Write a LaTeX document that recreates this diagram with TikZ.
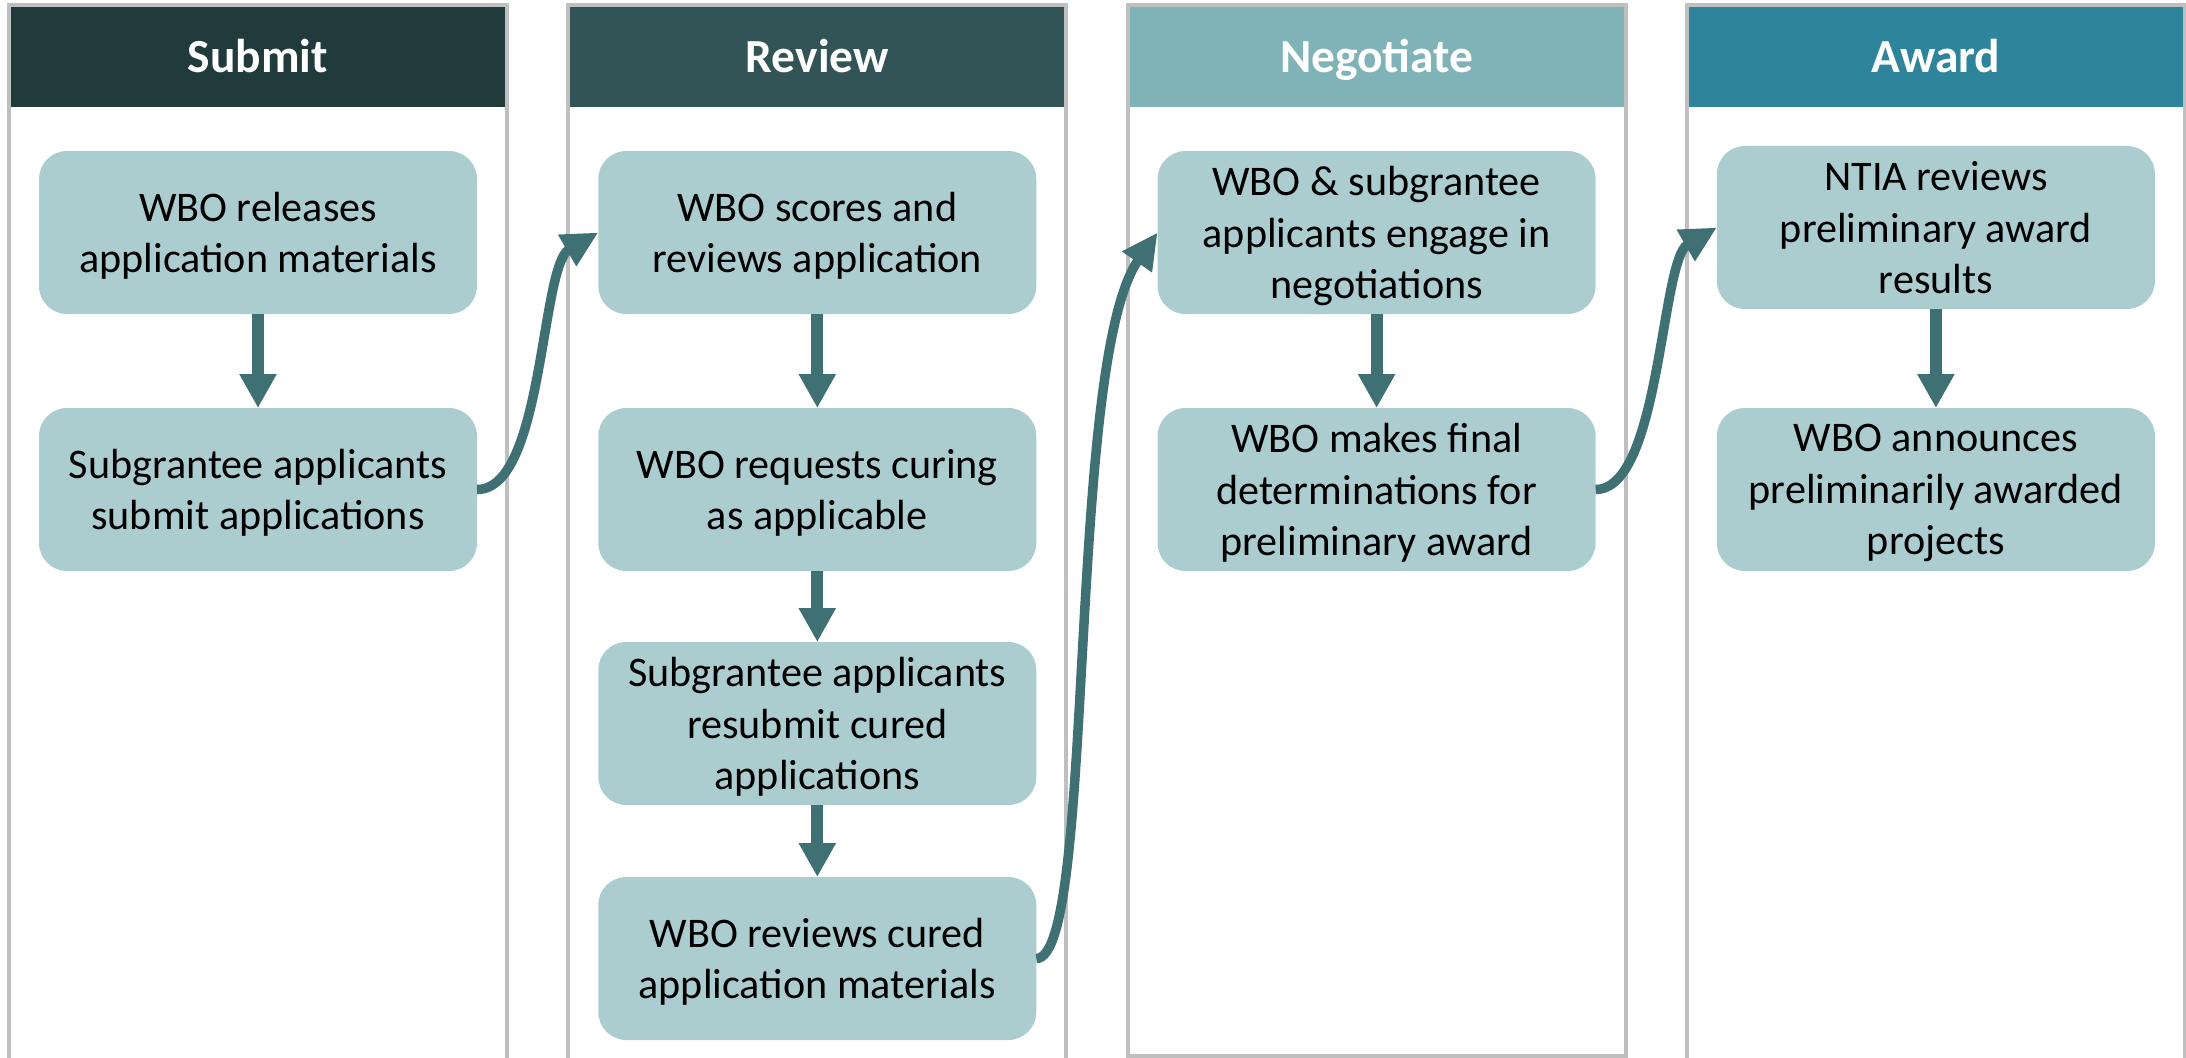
\documentclass[tikz,border=0pt]{standalone}
\usepackage{fontspec}
\setmainfont{Carlito}
\usetikzlibrary{positioning, arrows.meta}

\definecolor{submitc}{HTML}{213A3B}
\definecolor{reviewc}{HTML}{325456}
\definecolor{negotc}{HTML}{80B3B7}
\definecolor{awardc}{HTML}{2E849A}
\definecolor{boxc}{HTML}{ACCDD0}
\definecolor{arrowc}{HTML}{3F7073}
\definecolor{edgec}{HTML}{BFBFBF}

\begin{document}
\begin{tikzpicture}[node distance=1.226cm,
  lane/.style={draw=edgec, line width=0.08cm, rectangle, minimum width=9.96cm, minimum height=21.4cm, outer sep=0pt, inner sep=0pt},
  header/.style={rectangle, minimum width=9.88cm, minimum height=2cm, outer sep=0pt, inner sep=0pt, text height=0.62cm, text depth=0pt, text=white, font=\fontsize{27}{32}\selectfont\bfseries},
  stepbox/.style={rectangle, rounded corners=0.56cm, fill=boxc, minimum width=8.76cm, minimum height=3.26cm, outer sep=0pt, align=center, text depth=-0.06cm, font=\fontsize{24}{29.3}\selectfont},
  down/.style={-{Triangle[width=0.7cm, length=0.68cm]}, line width=0.24cm, draw=arrowc},
  link/.style={-{Triangle[width=0.68cm, length=0.72cm]}, line width=0.19cm, draw=arrowc}]
  \useasboundingbox (0,0) rectangle (43.72,-21.16);

  % Lanes
  \node[lane, anchor=north west] (sub) at (0.18,-0.1) {};
  \node[lane, right=1.226cm of sub.north east, anchor=north west] (rev) {};
  \node[lane, minimum height=21.02cm, right=1.226cm of rev.north east, anchor=north west] (neg) {};
  \node[lane, right=1.226cm of neg.north east, anchor=north west] (awd) {};

  % Headers
  \node[header, fill=submitc, below=0.04cm of sub.north] (sub-h) {Submit};
  \node[header, fill=reviewc, below=0.04cm of rev.north] (rev-h) {Review};
  \node[header, fill=negotc, below=0.04cm of neg.north] (neg-h) {Negotiate};
  \node[header, fill=awardc, below=0.04cm of awd.north] (awd-h) {Award};

  % Steps
  \node[stepbox, below=0.88cm of sub-h] (sub1) {WBO releases\\application materials};
  \node[stepbox, below=1.88cm of sub1] (sub2) {Subgrantee applicants\\submit applications};

  \node[stepbox, below=0.88cm of rev-h] (rev1) {WBO scores and\\reviews application};
  \node[stepbox, below=1.88cm of rev1] (rev2) {WBO requests curing\\as applicable};
  \node[stepbox, below=1.42cm of rev2] (rev3) {Subgrantee applicants\\resubmit cured\\applications};
  \node[stepbox, below=1.44cm of rev3] (rev4) {WBO reviews cured\\application materials};

  \node[stepbox, below=0.88cm of neg-h] (neg1) {WBO \& subgrantee\\applicants engage in\\negotiations};
  \node[stepbox, below=1.88cm of neg1] (neg2) {WBO makes final\\determinations for\\preliminary award};

  \node[stepbox, below=0.78cm of awd-h] (awd1) {NTIA reviews\\preliminary award\\results};
  \node[stepbox, below=1.88cm of neg1.south -| awd1] (awd2) {WBO announces\\preliminarily awarded\\projects};

  % Arrows inside a lane
  \draw[down] (sub1) -- (sub2);
  \draw[down] (rev1) -- (rev2);
  \draw[down] (rev2) -- (rev3);
  \draw[down] (rev3) -- (rev4);
  \draw[down] (neg1) -- (neg2);
  \draw[down] (awd1) -- (awd2);

  % Arrows between lanes
  \draw[link] (sub2.east) to[out=0, in=210, distance=1.34cm] (rev1.west);
  \draw[link] (rev4.east) to[out=0, in=235, out distance=1.2cm, in distance=3.2cm] (neg1.west);
  \draw[link] (neg2.east) to[out=0, in=210, distance=1.3cm] (awd1.west);
\end{tikzpicture}
\end{document}
